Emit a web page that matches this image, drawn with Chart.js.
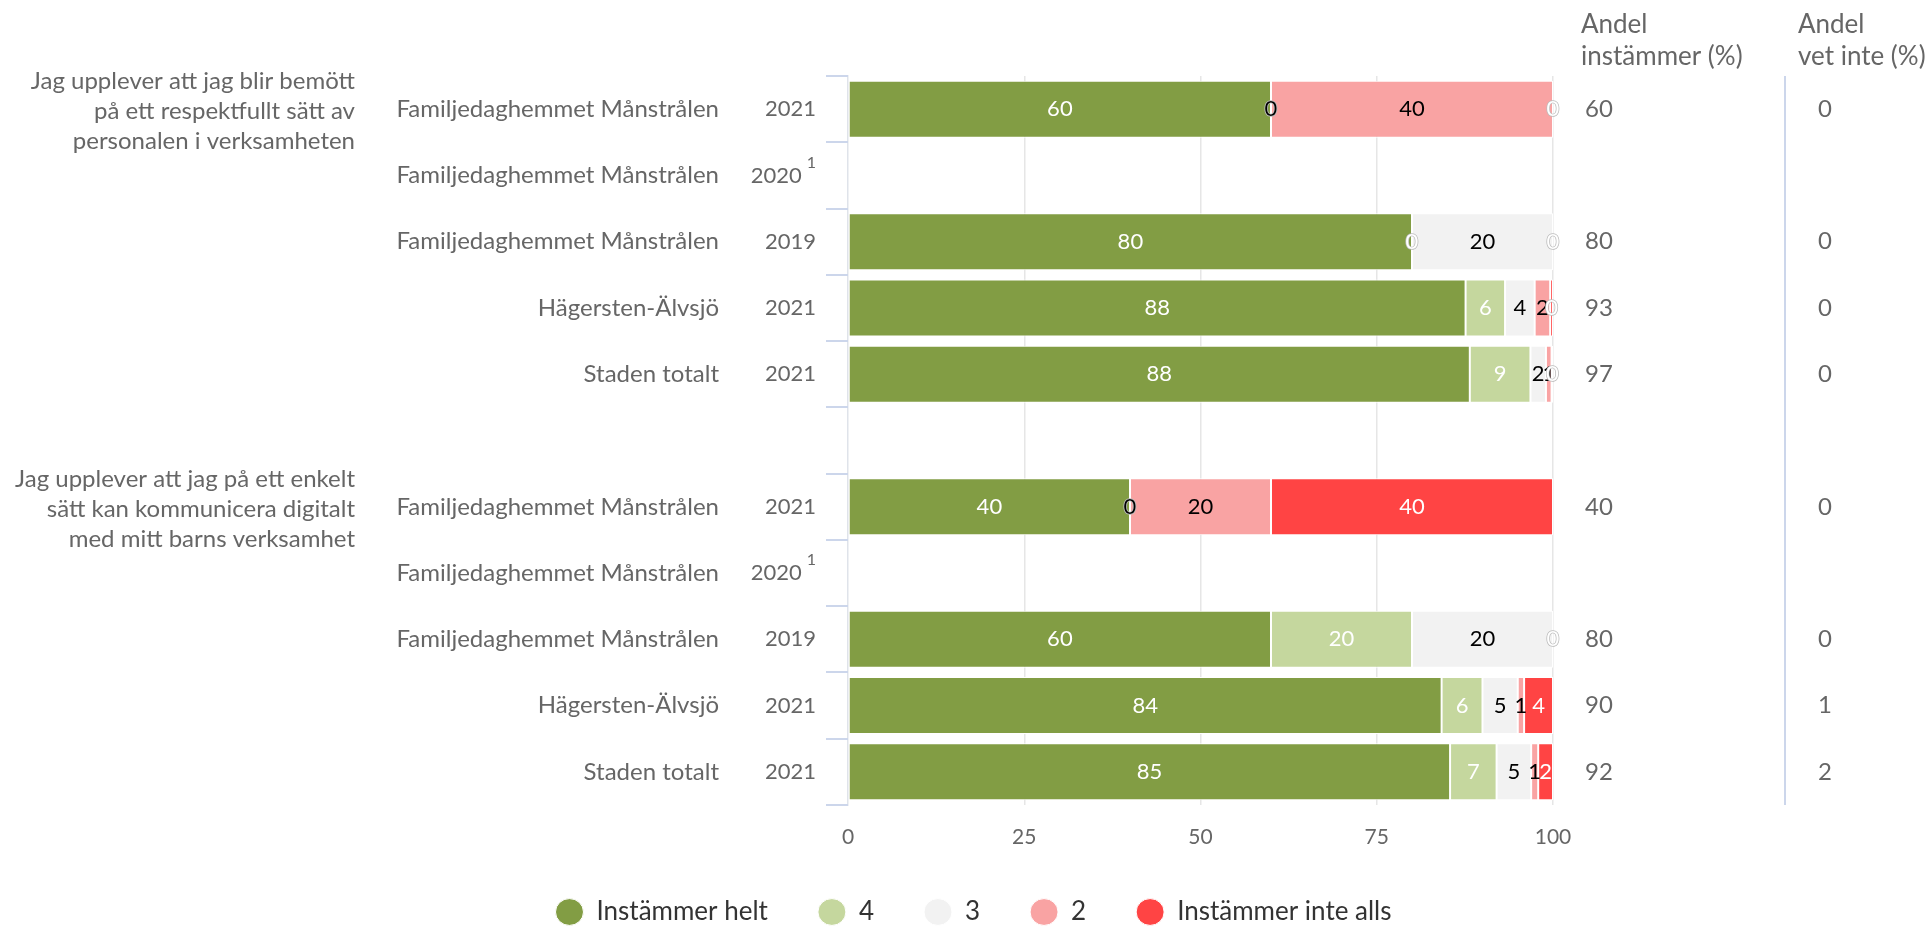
<!DOCTYPE html>
<html>
<head>
<meta charset="utf-8">
<script src="https://cdn.jsdelivr.net/npm/chart.js@4.4.1/dist/chart.umd.min.js"></script>
<style>
  html, body { margin: 0; padding: 0; background: #fff; }
  #wrap { width: 1927px; height: 926px; }
</style>
</head>
<body>
<div id="wrap"><canvas id="chart" width="1927" height="926"></canvas></div>
<script>
const FONT = 'Lato, "Open Sans", sans-serif'

// Rader i diagrammet (en tom rad mellan frågorna)
const units = ['Familjedaghemmet Månstrålen', 'Familjedaghemmet Månstrålen', 'Familjedaghemmet Månstrålen', 'Hägersten-Älvsjö', 'Staden totalt', '',
    'Familjedaghemmet Månstrålen', 'Familjedaghemmet Månstrålen', 'Familjedaghemmet Månstrålen', 'Hägersten-Älvsjö', 'Staden totalt']
const years = ['2021', '2020', '2019', '2021', '2021', '', '2021', '2020', '2019', '2021', '2021']
const yearNotes = ['', '1', '', '', '', '', '', '1', '', '', '']

const questionRows = [0, 6]
const questionLines = [
    ['Jag upplever att jag blir bemött', 'på ett respektfullt sätt av', 'personalen i verksamheten'],
    ['Jag upplever att jag på ett enkelt', 'sätt kan kommunicera digitalt', 'med mitt barns verksamhet']
]

// Svarsandelar (%)
const seriesNames = ['Instämmer helt', '4', '3', '2', 'Instämmer inte alls']
const helt = [60, null, 80, 87.6, 88.2, null, 40, null, 60, 84.2, 85.4]
const fyra = [0, null, 0, 5.6, 8.6, null, 0, null, 20, 5.8, 6.6]
const tre = [0, null, 20, 4.2, 2.2, null, 0, null, 20, 5.0, 4.9]
const tva = [40, null, 0, 2.2, 0.8, null, 20, null, 0, 0.9, 1.0]
const inteAlls = [0, null, 0, 0.4, 0.2, null, 40, null, 0, 4.1, 2.1]

const andelInstammer = [60, null, 80, 93, 97, null, 40, null, 80, 90, 92]
const andelVetInte = [0, null, 0, 0, 0, null, 0, null, 0, 1, 2]

const xTicks = [0, 25, 50, 75, 100]
const headers = [['Andel', 'instämmer (%)'], ['Andel', 'vet inte (%)']]

const seriesData = [helt, fyra, tre, tva, inteAlls]
const colors = ['#829d44', '#c5d79e', '#f2f2f2', '#f9a3a3', '#ff4444']
const labelColors = ['#ffffff', '#ffffff', '#000000', '#000000', '#ffffff']

// Texter runt diagrammet
const extras = {
    id: 'extras',
    beforeInit(chart) {
        const fit = chart.legend.fit
        chart.legend.fit = function () {
            fit.call(this)
            this.height = 77
        }
    },
    afterDatasetsDraw(chart) {
        const ctx = chart.ctx
        ctx.save()
        ctx.font = `22px ${FONT}`
        ctx.textAlign = 'center'
        ctx.textBaseline = 'middle'
        chart.data.datasets.forEach((ds, di) => {
            chart.getDatasetMeta(di).data.forEach((bar, i) => {
                const v = ds.data[i]
                if (v === null || v === undefined) return
                const txt = String(Math.round(v))
                const x = (bar.x + bar.base) / 2
                if (labelColors[di] === '#ffffff' && txt === '0') {
                    ctx.strokeStyle = '#bbbbbb'
                    ctx.lineWidth = 1.5
                    ctx.strokeText(txt, x, bar.y)
                }
                ctx.fillStyle = labelColors[di]
                ctx.fillText(txt, x, bar.y)
            })
        })
        ctx.restore()
    },
    afterDraw(chart) {
        const ctx = chart.ctx
        const y = chart.scales.y
        const area = chart.chartArea
        const band = y.getPixelForValue(1) - y.getPixelForValue(0)
        ctx.save()

        // tick-streck till vänster om axeln
        ctx.strokeStyle = '#ccd6eb'
        ctx.lineWidth = 2
        for (let k = 0; k <= units.length; k++) {
            const yy = Math.round(y.getPixelForValue(0) - band / 2 + k * band)
            ctx.beginPath()
            ctx.moveTo(area.left - 22, yy)
            ctx.lineTo(area.left, yy)
            ctx.stroke()
        }
        // avskiljare mellan kolumnerna
        ctx.beginPath()
        ctx.moveTo(area.right + 232, area.top)
        ctx.lineTo(area.right + 232, area.bottom)
        ctx.stroke()

        ctx.textBaseline = 'middle'
        ctx.fillStyle = '#666666'
        units.forEach((u, i) => {
            const yy = y.getPixelForValue(i)
            ctx.textAlign = 'right'
            ctx.font = `24px ${FONT}`
            ctx.fillText(u, area.left - 129, yy)
            ctx.font = `22px ${FONT}`
            if (yearNotes[i]) {
                ctx.font = `16px ${FONT}`
                const nw = ctx.measureText(yearNotes[i]).width
                ctx.textAlign = 'left'
                ctx.fillText(yearNotes[i], area.left - 32 - nw, yy - 13)
                ctx.font = `22px ${FONT}`
                ctx.textAlign = 'right'
                ctx.fillText(years[i], area.left - 37 - nw, yy)
            } else {
                ctx.fillText(years[i], area.left - 32, yy)
            }
            ctx.textAlign = 'left'
            ctx.font = `24px ${FONT}`
            if (andelInstammer[i] !== null) ctx.fillText(String(andelInstammer[i]), area.right + 32, yy)
            if (andelVetInte[i] !== null) ctx.fillText(String(andelVetInte[i]), area.right + 265, yy)
        })

        ctx.textAlign = 'right'
        ctx.font = `24px ${FONT}`
        questionRows.forEach((row, q) => {
            const yy = y.getPixelForValue(row)
            questionLines[q].forEach((line, l) => {
                ctx.fillText(line, 355, yy + (l - 1) * 30 + 2)
            })
        })

        ctx.textAlign = 'left'
        ctx.font = `26px ${FONT}`
        headers[0].forEach((h, l) => ctx.fillText(h, area.right + 28, 25 + l * 32))
        headers[1].forEach((h, l) => ctx.fillText(h, area.right + 245, 25 + l * 32))
        ctx.restore()
    }
}

new Chart(document.getElementById('chart'), {
    type: 'bar',
    data: {
        labels: units.map((u, i) => i),
        datasets: seriesNames.map((name, i) => ({
            label: name,
            data: seriesData[i],
            backgroundColor: colors[i],
            borderColor: '#ffffff',
            borderWidth: 1,
            borderSkipped: false,
            categoryPercentage: 1,
            barPercentage: 0.86
        }))
    },
    options: {
        indexAxis: 'y',
        responsive: false,
        animation: false,
        devicePixelRatio: 1,
        layout: {padding: {top: 76, left: 20, right: 0, bottom: 0}},
        scales: {
            x: {
                type: 'linear',
                stacked: true,
                min: 0,
                max: 100,
                afterBuildTicks: (s) => { s.ticks = xTicks.map(v => ({value: v})) },
                afterFit: (s) => { s.height = 44 },
                ticks: {color: '#666666', font: {family: FONT, size: 21}, padding: 20},
                grid: {
                    color: (c) => c.tick && c.tick.value === 0 ? 'rgba(0,0,0,0)' : '#e6e6e6',
                    lineWidth: 1.5,
                    drawTicks: false
                },
                border: {display: false}
            },
            y: {
                stacked: true,
                afterFit: (s) => { s.width = 828 },
                ticks: {display: false},
                grid: {display: false},
                border: {display: true, color: '#dfe3ea', width: 1.5}
            },
            y2: {
                type: 'category',
                position: 'right',
                afterFit: (s) => { s.width = 374 },
                ticks: {display: false},
                grid: {display: false},
                border: {display: false}
            }
        },
        plugins: {
            tooltip: {enabled: false},
            legend: {
                position: 'bottom',
                labels: {
                    usePointStyle: true,
                    pointStyle: 'circle',
                    pointStyleWidth: 28,
                    boxHeight: 19,
                    padding: 50,
                    color: '#333333',
                    font: {family: FONT, size: 26}
                }
            }
        }
    },
    plugins: [extras]
})
</script>
</body>
</html>
